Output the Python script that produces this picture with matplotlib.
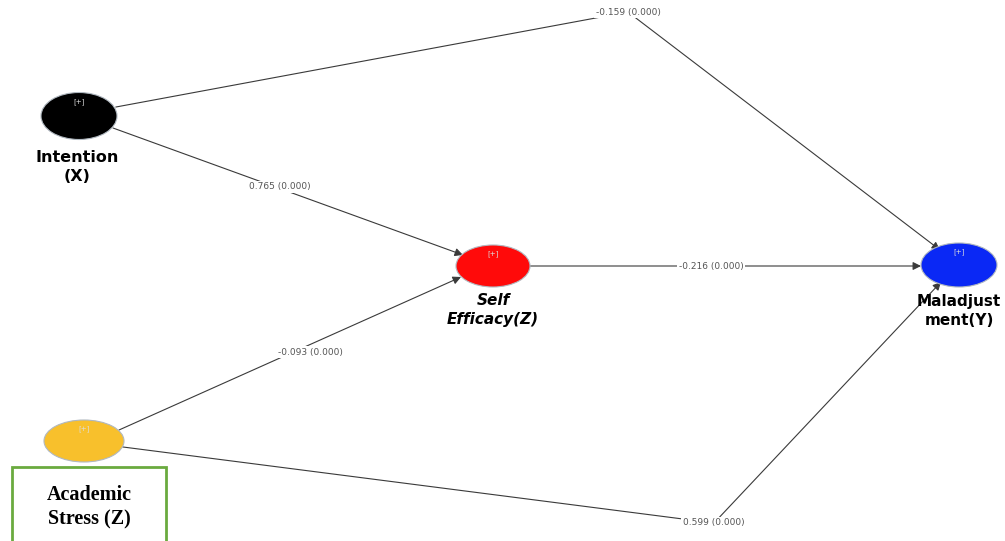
import matplotlib.pyplot as plt
from matplotlib.patches import Ellipse, FancyArrowPatch, Rectangle

# model data
constructs = ['Intention\n(X)', 'Self\nEfficacy(Z)', 'Maladjust\nment(Y)', 'Academic\nStress (Z)']
paths_from = [0, 0, 1, 3, 3]
paths_to = [2, 1, 2, 1, 2]
coefs = [-0.159, 0.765, -0.216, -0.093, 0.599]
pvals = [0.000, 0.000, 0.000, 0.000, 0.000]

# layout (pixel coordinates)
node_xy = [(79, 116), (493, 266), (959, 265), (84, 441)]
node_wh = [(76, 47), (74, 42), (76, 44), (80, 42)]
node_col = ['#000000', '#ff0a0a', '#0a28f5', '#f8c02c']
label_xy = [(77, 167), (493, 310), (959, 311)]
# label position and optional bend for each path
path_lbl = [(628, 12), (280, 187), (711, 266), (310, 352), (714, 523)]
path_bend = [True, False, False, False, True]
start_pt = [(116, 107), (113, 128), (530, 266), (119, 430), (123, 447)]
end_pt = [(940, 250), (463, 255), (921, 266), (461, 277), (941, 282)]

fig = plt.figure(figsize=(10.05, 5.41), dpi=100)
ax = fig.add_axes([0, 0, 1, 1])
ax.set_xlim(0, 1005)
ax.set_ylim(541, 0)
ax.axis('off')

line_col = '#3a3a3a'
for i in range(len(coefs)):
    s, e = start_pt[i], end_pt[i]
    lx, ly = path_lbl[i]
    txt = f'{coefs[i]:.3f} ({pvals[i]:.3f})'
    if path_bend[i]:
        ax.plot([s[0], lx], [s[1], ly], color=line_col, lw=0.8, zorder=1)
        arr = FancyArrowPatch((lx, ly), e, arrowstyle='-|>', mutation_scale=12,
                              color=line_col, lw=0.8, shrinkA=0, shrinkB=0, zorder=1)
    else:
        arr = FancyArrowPatch(s, e, arrowstyle='-|>', mutation_scale=12,
                              color=line_col, lw=0.8, shrinkA=0, shrinkB=0, zorder=1)
    ax.add_patch(arr)
    ax.text(lx, ly, txt, ha='center', va='center', fontsize=6.5, color='#555555',
            family='DejaVu Sans', zorder=3,
            bbox=dict(boxstyle='square,pad=0.2', fc='white', ec='none'))

for i in range(len(constructs)):
    x, y = node_xy[i]
    w, h = node_wh[i]
    ax.add_patch(Ellipse((x, y), w, h, fc=node_col[i], ec='#b0b8c0', lw=0.8, zorder=2))
    ax.text(x, y - h / 2 + 9, '[+]', ha='center', va='center', fontsize=5,
            color='#dddddd', zorder=3)

# construct labels
ax.text(*label_xy[0], constructs[0], ha='center', va='center', fontsize=11.5,
        fontweight='bold', family='DejaVu Sans', linespacing=1.4)
ax.text(*label_xy[1], constructs[1], ha='center', va='center', fontsize=11,
        fontweight='bold', style='italic', family='DejaVu Sans', linespacing=1.35)
ax.text(*label_xy[2], constructs[2], ha='center', va='center', fontsize=11,
        fontweight='bold', family='DejaVu Sans', linespacing=1.4)

# boxed label for academic stress
ax.add_patch(Rectangle((12, 467), 154, 80, fc='white', ec='#6aaa3f', lw=2, zorder=4,
                       clip_on=False))
ax.text(89, 507, constructs[3], ha='center', va='center', fontsize=14.5,
        fontweight='bold', family='Liberation Serif', linespacing=1.3, zorder=5)

fig.savefig('out.png', dpi=100)
